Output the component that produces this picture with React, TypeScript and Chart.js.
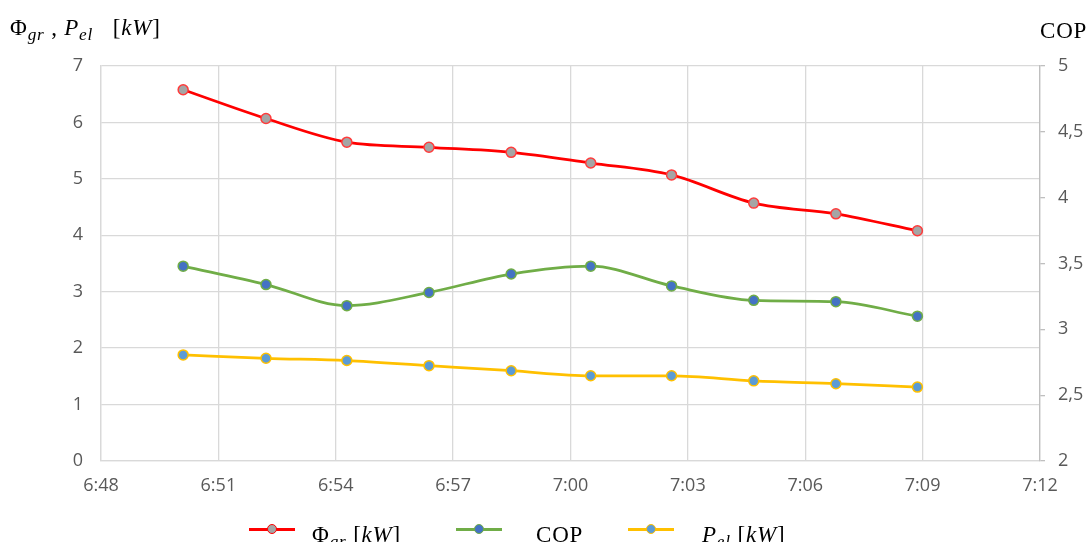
import React, { useEffect, useRef } from "react";
import { Chart, registerables } from "chart.js";

Chart.register(...registerables);

// Measurement times (h:mm:ss)
const times: string[] = [
  "6:50:06", "6:52:13", "6:54:17", "6:56:23", "6:58:29",
  "7:00:31", "7:02:35", "7:04:41", "7:06:47", "7:08:52",
];
// Heat from ground Φgr [kW]
const phiGr: number[] = [6.58, 6.07, 5.65, 5.56, 5.47, 5.28, 5.07, 4.57, 4.38, 4.08];
// COP (right axis)
const cop: number[] = [3.48, 3.34, 3.18, 3.28, 3.42, 3.48, 3.33, 3.22, 3.21, 3.10];
// Electric power Pel [kW]
const pEl: number[] = [1.88, 1.82, 1.78, 1.69, 1.60, 1.51, 1.51, 1.42, 1.37, 1.31];

// Axis ranges (minutes since midnight for x)
const xMinLabel = "6:48";
const xMaxLabel = "7:12";
const xStepMinutes = 3;
const leftMin = 0, leftMax = 7, leftStep = 1;
const rightMin = 2, rightMax = 5, rightStep = 0.5;

const toMinutes = (t: string) => {
  const p = t.split(":").map(Number);
  return p[0] * 60 + p[1] + (p[2] || 0) / 60;
};
const fmtTime = (v: number) => {
  const h = Math.floor(v / 60);
  const m = Math.round(v - h * 60);
  return `${h}:${m.toString().padStart(2, "0")}`;
};

const tickFont = { family: "'Open Sans', sans-serif", size: 18 };
const tickColor = "#595959";
const gridColor = "#d9d9d9";
const serif = "'Liberation Serif', 'DejaVu Serif', serif";

function Sub({ children }: { children: React.ReactNode }) {
  return (
    <span style={{ fontStyle: "italic", fontSize: "0.75em", verticalAlign: "-0.3em" }}>{children}</span>
  );
}

function LegendSymbol({ left, line, fill }: { left: number; line: string; fill: string }) {
  return (
    <div style={{ position: "absolute", left, top: 520, width: 46, height: 18 }}>
      <div style={{ position: "absolute", left: 0, top: 7.5, width: 46, height: 3, background: line }} />
      <div
        style={{
          position: "absolute", left: 17.5, top: 3.5, width: 8, height: 8, borderRadius: "50%",
          background: fill, border: `1.5px solid ${line}`,
        }}
      />
    </div>
  );
}

export default function App() {
  const ref = useRef<HTMLCanvasElement | null>(null);

  useEffect(() => {
    if (!ref.current) return;
    const xs = times.map(toMinutes);
    const mk = (vals: number[]) => vals.map((y, i) => ({ x: xs[i], y }));
    const chart = new Chart(ref.current, {
      type: "line",
      data: {
        datasets: [
          {
            label: "Φgr [kW]",
            data: mk(phiGr),
            yAxisID: "y",
            borderColor: "#ff0000",
            backgroundColor: "#a5a5a5",
            pointBackgroundColor: "#a5a5a5",
            pointBorderColor: "#ff3b3b",
            borderWidth: 2.75,
            pointRadius: 5,
            pointBorderWidth: 1.5,
            cubicInterpolationMode: "monotone",
          },
          {
            label: "COP",
            data: mk(cop),
            yAxisID: "y1",
            borderColor: "#70ad47",
            backgroundColor: "#4472c4",
            pointBackgroundColor: "#4472c4",
            pointBorderColor: "#70ad47",
            borderWidth: 2.75,
            pointRadius: 5,
            pointBorderWidth: 1.5,
            cubicInterpolationMode: "monotone",
          },
          {
            label: "Pel [kW]",
            data: mk(pEl),
            yAxisID: "y",
            borderColor: "#ffc000",
            backgroundColor: "#5b9bd5",
            pointBackgroundColor: "#5b9bd5",
            pointBorderColor: "#ffc000",
            borderWidth: 2.75,
            pointRadius: 5,
            pointBorderWidth: 1.5,
            cubicInterpolationMode: "monotone",
          },
        ],
      },
      options: {
        animation: false,
        responsive: false,
        maintainAspectRatio: false,
        layout: { padding: { top: 66, left: 0, right: 0, bottom: 0 } },
        plugins: { legend: { display: false }, tooltip: { enabled: false } },
        scales: {
          x: {
            type: "linear",
            min: toMinutes(xMinLabel),
            max: toMinutes(xMaxLabel),
            ticks: {
              stepSize: xStepMinutes,
              callback: (v: any) => fmtTime(Number(v)),
              color: tickColor,
              font: tickFont,
              padding: 14,
              maxRotation: 0,
              autoSkip: false,
            },
            grid: { color: gridColor, lineWidth: 1.3, drawTicks: false },
            border: { color: gridColor, width: 1.3 },
            afterFit: (s: any) => { s.height = 81; },
          },
          y: {
            position: "left",
            min: leftMin,
            max: leftMax,
            ticks: { stepSize: leftStep, color: tickColor, font: tickFont, padding: 18 },
            grid: { color: gridColor, lineWidth: 1.3, drawTicks: false },
            border: { color: gridColor, width: 1.3 },
            afterFit: (s: any) => { s.width = 101; },
          },
          y1: {
            position: "right",
            min: rightMin,
            max: rightMax,
            ticks: {
              stepSize: rightStep,
              color: tickColor,
              font: tickFont,
              padding: 13,
              callback: (v: any) => String(v).replace(".", ","),
            },
            grid: { drawOnChartArea: false, color: "#bfbfbf", tickLength: 5, lineWidth: 1.3 },
            border: { color: "#bfbfbf", width: 1.3 },
            afterFit: (s: any) => { s.width = 51; },
          },
        },
      } as any,
    });
    return () => chart.destroy();
  }, []);

  const labelStyle: React.CSSProperties = {
    position: "absolute", fontFamily: serif, fontSize: 23, color: "#000", whiteSpace: "nowrap",
    lineHeight: 1, letterSpacing: "0.8px",
  };

  return (
    <div style={{ position: "fixed", left: 0, top: 0, width: 1091, height: 542, background: "#fff" }}>
      <canvas ref={ref} width={1091} height={542} style={{ position: "absolute", left: 0, top: 0 }} />
      {/* left axis title */}
      <div style={{ ...labelStyle, left: 10, top: 16 }}>
        Φ<Sub>gr</Sub> , <i>P</i><Sub>el</Sub>&nbsp;&nbsp; [<i>kW</i>]
      </div>
      {/* right axis title */}
      <div style={{ ...labelStyle, left: 1040, top: 19 }}>COP</div>
      {/* legend */}
      <LegendSymbol left={249} line="#ff0000" fill="#a5a5a5" />
      <div style={{ ...labelStyle, left: 312, top: 523 }}>
        Φ<Sub>gr</Sub>&nbsp;[<i>kW</i>]
      </div>
      <LegendSymbol left={456} line="#70ad47" fill="#4472c4" />
      <div style={{ ...labelStyle, left: 536, top: 523 }}>COP</div>
      <LegendSymbol left={628} line="#ffc000" fill="#5b9bd5" />
      <div style={{ ...labelStyle, left: 702, top: 523 }}>
        <i>P</i><Sub>el</Sub>&nbsp;[<i>kW</i>]
      </div>
    </div>
  );
}
